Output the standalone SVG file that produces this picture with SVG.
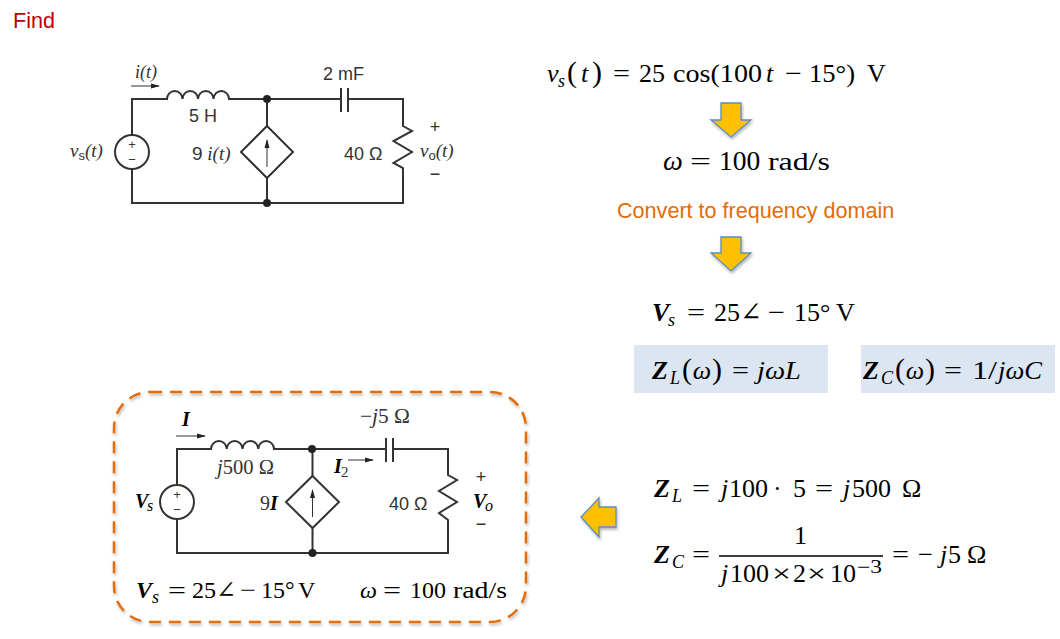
<svg xmlns="http://www.w3.org/2000/svg" width="1060" height="639" viewBox="0 0 1060 639">
<style>
text{font-family:"Liberation Serif","DejaVu Serif",serif;fill:#000}
.sans{font-family:"Liberation Sans",Arial,sans-serif}
.i{font-style:italic}.b{font-weight:bold}
.m26{font-size:26px}.m24{font-size:24px}.s18{font-size:18px}.s19{font-size:19px}.sub{font-size:18px}.c20{font-size:20px}.p13{font-size:13px}
.par{font-size:30px}
.g{fill:#333}
.w{fill:none;stroke:#333;stroke-width:2}
.t{fill:none;stroke:#333;stroke-width:1}
.d{fill:#222}
.blk{fill:#FFC000;stroke:#5B8DC5;stroke-width:1.3;filter:url(#sh)}
</style>
<defs>
<filter id="sh" x="-20%" y="-20%" width="150%" height="150%"><feDropShadow dx="1" dy="2" stdDeviation="1.500" flood-color="#000" flood-opacity="0.3"/></filter>
<marker id="ah" markerWidth="9" markerHeight="6" refX="8" refY="3" orient="auto" markerUnits="userSpaceOnUse"><path d="M0 .5L9 3L0 5.500z" fill="#222"/></marker>
</defs>
<rect width="1060" height="639" fill="#fff"/>

<g id="title"><text class="sans" x="13" y="28" font-size="21.600" style="fill:#C00000">Find</text></g>

<g id="connectors">
<g id="wires-time">
<path class="w" d="M132 135V99H167a7.750 8 0 0 1 15.500 0a7.750 8 0 0 1 15.500 0a7.750 8 0 0 1 15.500 0a7.750 8 0 0 1 15.500 0H341M348 99H403V126L412 131L393.500 141L412 152L393.500 163L403 168V203H132V169"/>
<path class="w" d="M267 99V126M267 178V203M341 88V112M348 88V112"/>
<path class="t" d="M131 86H159" marker-end="url(#ah)" stroke-width="1.500"/>
</g>
<g id="wires-freq">
<path class="w" d="M177 485V449H211a7.875 8 0 0 1 15.750 0a7.875 8 0 0 1 15.750 0a7.875 8 0 0 1 15.750 0a7.875 8 0 0 1 15.750 0H386M393 449H448V475L457 480L439 491L457 502L439 513L448 520V553H177V519"/>
<path class="w" d="M312.500 449V476M312.500 528V553M386 438V462M393 438V462"/>
<path class="t" d="M176 436H205" marker-end="url(#ah)"/>
<path class="t" d="M348 460H373" marker-end="url(#ah)"/>
</g>
</g>

<g id="source-time"><circle class="w" cx="132" cy="152" r="17" style="fill:#fff"/><text class="sans p13 g" x="132" y="149" text-anchor="middle">+</text><text class="sans p13 g" x="132" y="164" text-anchor="middle">−</text></g>
<g id="junctions-time"><circle class="d" cx="267" cy="99" r="4"/><circle class="d" cx="267" cy="203" r="4"/></g>
<g id="dep-source-time"><path class="w" d="M267 126L293 152L267 178L241 152Z"/><path class="t" d="M267 167V140" marker-end="url(#ah)"/></g>
<g id="labels-time">
<text class="i s18 g" x="135" y="78">i(t)</text>
<text class="sans s18 g" x="323" y="80">2 mF</text>
<text class="sans s18 g" x="189" y="122">5 H</text>
<text class="i s19 g" x="70" y="157">v<tspan class="sans" font-style="normal" font-size="13" dy="3">s</tspan><tspan dy="-3">(t)</tspan></text>
<text class="s19 g" x="192" y="160"><tspan class="sans">9</tspan> <tspan class="i">i(t)</tspan></text>
<text class="sans s18 g" x="344" y="160">40 Ω</text>
<text class="sans s18 g" x="435" y="133" text-anchor="middle">+</text>
<text class="i s19 g" x="420" y="157">v<tspan class="sans" font-style="normal" font-size="13" dy="3">o</tspan><tspan dy="-3">(t)</tspan></text>
<text class="sans s18 g" x="435" y="180" text-anchor="middle">−</text>
</g>

<g id="eq-vs-t">
<text class="m26 i" x="547" y="82">v</text><text class="i sub" x="558" y="87">s</text>
<text class="par" x="567" y="82" textLength="35" lengthAdjust="spacing">(<tspan class="i m26">t</tspan>)</text>
<text class="m26" x="613" y="82" textLength="17" lengthAdjust="spacingAndGlyphs">=</text>
<text class="m26" x="639" y="82">25</text>
<text class="m26" x="673" y="82" textLength="89" lengthAdjust="spacingAndGlyphs">cos(100</text>
<text class="m26 i" x="766" y="82">t</text>
<text class="m26" x="785" y="82" textLength="17" lengthAdjust="spacingAndGlyphs">−</text>
<text class="m26" x="809" y="82" textLength="46" lengthAdjust="spacingAndGlyphs">15°)</text>
<text class="m26" x="867" y="82">V</text>
</g>
<g id="arrow-1"><path class="blk" d="M721 103H741V120H751L731 137L711 120H721Z"/></g>
<g id="eq-omega">
<text class="i" x="663" y="170" font-size="28">ω</text>
<text class="m26" x="690" y="170" textLength="21" lengthAdjust="spacingAndGlyphs">=</text>
<text x="719" y="170" font-size="27.500">100</text>
<text class="m26" x="768" y="170" textLength="62" lengthAdjust="spacingAndGlyphs">rad/s</text>
</g>
<g id="convert-label"><text class="sans" x="617" y="218" font-size="21.600" style="fill:#E36C0A">Convert to frequency domain</text></g>
<g id="arrow-2"><path class="blk" d="M721 237H741V253H751L731 271L711 253H721Z"/></g>
<g id="eq-vs-phasor">
<text class="m26 i b" x="652" y="321">V</text><text class="i sub" x="668" y="326">s</text>
<text class="m26" x="687" y="321" textLength="18" lengthAdjust="spacingAndGlyphs">=</text>
<text class="m26" x="714" y="321">25∠</text>
<text class="m26" x="768" y="321" textLength="17" lengthAdjust="spacingAndGlyphs">−</text>
<text class="m26" x="794" y="321">15°</text>
<text class="m26" x="836" y="321">V</text>
</g>

<g id="box-zl"><rect x="634" y="345" width="194" height="48" fill="#DCE6F2"/>
<text class="m26 b i" x="652" y="379">Z</text><text class="i sub" x="670" y="384">L</text>
<text class="par" x="682" y="379" textLength="40" lengthAdjust="spacing">(<tspan class="i m26">ω</tspan>)</text>
<text class="m26" x="732" y="379" textLength="17" lengthAdjust="spacingAndGlyphs">=</text>
<text class="m26 i" x="757" y="379" textLength="44" lengthAdjust="spacingAndGlyphs">jωL</text></g>
<g id="box-zc"><rect x="861" y="345" width="194" height="48" fill="#DCE6F2"/>
<text class="m26 b i" x="863" y="379">Z</text><text class="i sub" x="881" y="384">C</text>
<text class="par" x="895" y="379" textLength="40" lengthAdjust="spacing">(<tspan class="i m26">ω</tspan>)</text>
<text class="m26" x="944" y="379" textLength="18" lengthAdjust="spacingAndGlyphs">=</text>
<text class="m26" x="972" y="379" textLength="25" lengthAdjust="spacingAndGlyphs">1/</text>
<text class="m26 i" x="998" y="379" textLength="44" lengthAdjust="spacingAndGlyphs">jωC</text></g>

<g id="arrow-3"><path class="blk" d="M581 517L599 498V507H616V527H599V537Z"/></g>
<g id="eq-zl">
<text class="m26 b i" x="654" y="497">Z</text><text class="i sub" x="672" y="502">L</text>
<text class="m26" x="692" y="497" textLength="18" lengthAdjust="spacingAndGlyphs">=</text>
<text class="m26 i" x="721" y="497">j</text><text class="m26" x="729" y="497">100</text>
<text class="m26" x="773" y="497">·</text><text class="m26" x="793" y="497">5</text>
<text class="m26" x="815" y="497" textLength="18" lengthAdjust="spacingAndGlyphs">=</text>
<text class="m26 i" x="843" y="497">j</text><text class="m26" x="852" y="497">500</text>
<text class="m26" x="902" y="497">Ω</text>
</g>
<g id="eq-zc">
<text class="m26 b i" x="654" y="563">Z</text><text class="i sub" x="672" y="568">C</text>
<text class="m26" x="692" y="563" textLength="18" lengthAdjust="spacingAndGlyphs">=</text>
<text class="m26" x="794" y="544">1</text>
<path d="M719 556H883" stroke="#000" stroke-width="1.300"/>
<text class="m26 i" x="721" y="582">j</text><text class="m26" x="730" y="582">100</text>
<text class="m26" x="772" y="582" textLength="19" lengthAdjust="spacingAndGlyphs">×</text>
<text class="m26" x="793" y="582">2</text>
<text class="m26" x="807" y="582" textLength="19" lengthAdjust="spacingAndGlyphs">×</text>
<text class="m26" x="830" y="582">10</text>
<text class="sub" x="857" y="573" textLength="25" lengthAdjust="spacingAndGlyphs">−3</text>
<text class="m26" x="892" y="563" textLength="17" lengthAdjust="spacingAndGlyphs">=</text>
<text class="m26" x="918" y="563" textLength="15" lengthAdjust="spacingAndGlyphs">−</text>
<text class="m26 i" x="940" y="563">j</text><text class="m26" x="948" y="563">5</text>
<text class="m26" x="967" y="563">Ω</text>
</g>

<g id="frequency-circuit">
<rect x="114" y="392" width="412" height="230" rx="36" fill="none" stroke="#E36C0A" stroke-width="2.500" stroke-dasharray="12 8" filter="url(#sh)"/>
<g id="source-freq"><circle class="w" cx="177" cy="502" r="17" style="fill:#fff"/><text class="sans p13 g" x="177" y="499" text-anchor="middle">+</text><text class="sans p13 g" x="177" y="514" text-anchor="middle">−</text></g>
<g id="junctions-freq"><circle class="d" cx="312" cy="449" r="4"/><circle class="d" cx="312.500" cy="553" r="4"/></g>
<g id="dep-source-freq"><path class="w" d="M312.500 476L339 502L312.500 528L286 502Z"/><path class="t" d="M312.500 517V490" marker-end="url(#ah)"/></g>
<text class="i b c20" x="182" y="426">I</text>
<text class="g" x="360" y="423" font-size="21" textLength="50" lengthAdjust="spacingAndGlyphs">−<tspan class="i">j</tspan>5 Ω</text>
<text class="g" x="217" y="474" font-size="21" textLength="57" lengthAdjust="spacingAndGlyphs"><tspan class="i">j</tspan>500 Ω</text>
<text class="i b c20" x="334" y="473">I</text><text class="g" x="341" y="477" font-size="15">2</text>
<text class="i b c20" x="135" y="508">V</text><text class="i" x="147" y="511" font-size="16">s</text>
<text class="g c20" x="260" y="510">9<tspan class="i b" style="fill:#000">I</tspan></text>
<text class="sans s18 g" x="389" y="510">40 Ω</text>
<text class="sans s18 g" x="481" y="483" text-anchor="middle">+</text>
<text class="i b c20" x="473" y="508">V</text><text class="i" x="485" y="511" font-size="16">o</text>
<text class="sans s18 g" x="481" y="530" text-anchor="middle">−</text>
<text class="m24 i b" x="136" y="598">V</text><text class="i sub" x="152" y="603">s</text>
<text class="m24" x="168" y="598" textLength="18" lengthAdjust="spacingAndGlyphs">=</text>
<text class="m24" x="192" y="598">25∠</text>
<text class="m24" x="240" y="598" textLength="16" lengthAdjust="spacingAndGlyphs">−</text>
<text class="m24" x="261" y="598">15°</text>
<text class="m24" x="298" y="598">V</text>
<text class="m24 i" x="360" y="598">ω</text>
<text class="m24" x="383" y="598" textLength="18" lengthAdjust="spacingAndGlyphs">=</text>
<text class="m24" x="410" y="598">100</text>
<text class="m24" x="453" y="598" textLength="54" lengthAdjust="spacingAndGlyphs">rad/s</text>
</g>
</svg>
